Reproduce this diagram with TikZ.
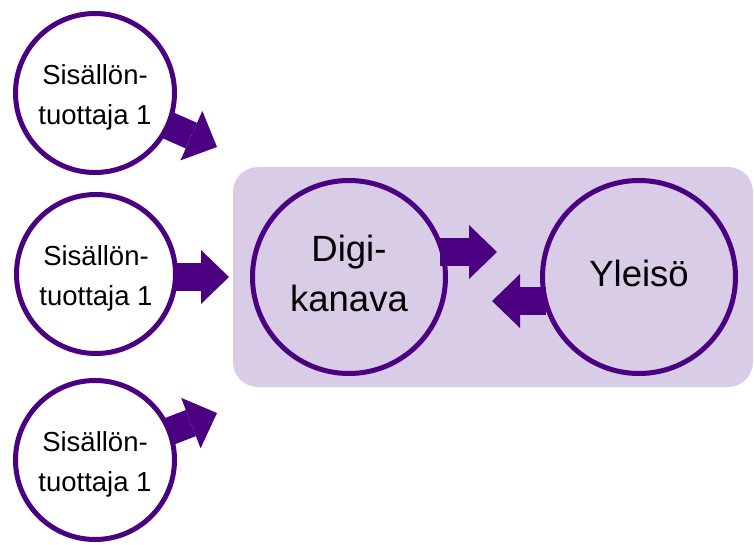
\documentclass[tikz,border=0pt]{standalone}
\usepackage{fontspec}
\setmainfont{Liberation Sans}
\usetikzlibrary{arrows.meta,calc}
\pgfdeclarelayer{bg}\pgfdeclarelayer{mid}\pgfsetlayers{bg,mid,main}
\definecolor{pc}{RGB}{75,0,130}
\definecolor{lav}{RGB}{216,204,230}
\begin{document}
\begin{tikzpicture}[x=1pt,y=-1pt,
 circ/.style={circle,draw=pc,line width=5pt,fill=white,minimum size=159pt,inner sep=0pt},
 bigcirc/.style={circle,draw=pc,line width=5pt,minimum size=193pt,inner sep=0pt},
 small/.style={font=\fontsize{27.5}{40}\selectfont,align=center,inner sep=0pt},
 big/.style={font=\fontsize{36.5}{50}\selectfont,align=center,inner sep=0pt},
 fat/.style={draw=pc,line width=28pt,-{Triangle[length=28pt,width=54pt,line width=0pt]}}]
\useasboundingbox (0,0) rectangle (754,545);
% circles and texts
\node[circ] (c1) at (95,93) {};
\node[small] (c1t) at ([yshift=-4pt]c1.center) {Sisällön-\\tuottaja 1};
\node[circ] (c2) at (96,274) {};
\node[small] (c2t) at ([yshift=-4pt]c2.center) {Sisällön-\\tuottaja 1};
\node[circ] (c3) at (95,460) {};
\node[small] (c3t) at ([yshift=-4pt]c3.center) {Sisällön-\\tuottaja 1};
\node[bigcirc] (d) at (349,277) {};
\node[big] (dt) at ([yshift=4pt]d.center) {Digi-\\kanava};
\node[bigcirc] (yl) at (639,277) {};
\node[big] (ylt) at ([yshift=4pt]yl.center) {Yleisö};
% arrow tips
\coordinate (t1) at (217,147);
\coordinate (t2) at (229,277);
\coordinate (t3) at (217,413);
\coordinate (r1) at (497,252);
\coordinate (r2) at (492,301);
\begin{pgfonlayer}{bg}
\node[rectangle,rounded corners=25pt,fill=lav,minimum width=520pt,minimum height=220pt,inner sep=0pt] (panel) at (493,277) {};
\end{pgfonlayer}
\begin{pgfonlayer}{mid}
\draw[fat] (c1.center) -- (t1);
\draw[fat] (c2.center |- t2) -- (t2);
\draw[fat] (c3.center) -- (t3);
\draw[fat] ($(d.east |- r1)+(-8,0)$) -- (r1);
\draw[fat] ($(yl.west |- r2)+(6,0)$) -- (r2);
\end{pgfonlayer}
\end{tikzpicture}
\end{document}
